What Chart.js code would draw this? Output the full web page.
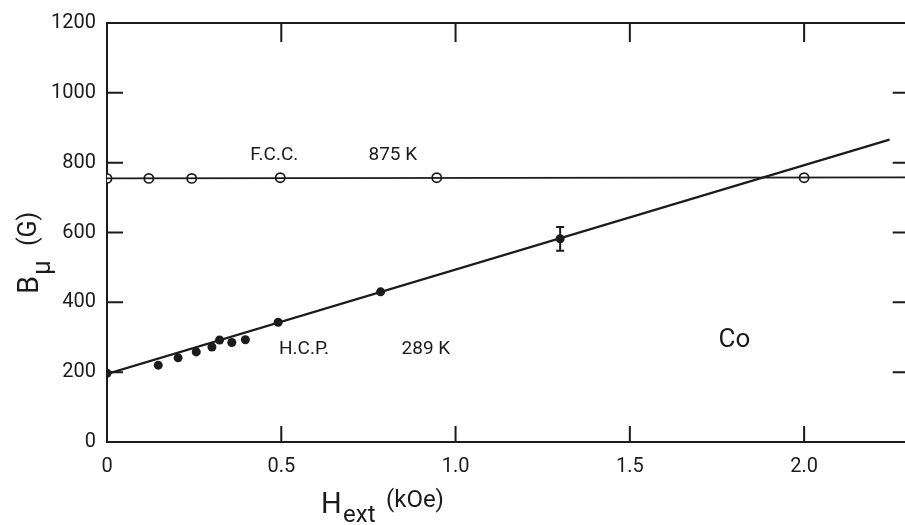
<!DOCTYPE html>
<html>
<head>
<meta charset="utf-8">
<script src="https://cdn.jsdelivr.net/npm/chart.js@4/dist/chart.umd.min.js"></script>
<style>
  html, body { margin: 0; padding: 0; background: #fff; overflow: hidden; }
  #wrap { width: 915px; height: 525px; }
</style>
</head>
<body>
<div id="wrap"><canvas id="c"></canvas></div>
<script>
// F.C.C. 875 K (open circles)
const fccX = [0, 0.12, 0.243, 0.497, 0.946, 2.0];
const fccY = [755, 755, 755, 757, 757, 757];
const fccFitX = [0, 2.3];
const fccFitY = [755, 758];

// H.C.P. 289 K (filled circles)
const hcpX = [0, 0.147, 0.204, 0.256, 0.301, 0.323, 0.358, 0.397, 0.491, 0.785, 1.3];
const hcpY = [197, 220, 241, 258, 272, 292, 285, 293, 343, 430, 582];
const hcpErr = [0, 0, 0, 0, 0, 0, 0, 0, 0, 0, 34];
const hcpFitX = [0, 2.245];
const hcpFitY = [195, 866];

const xTicks = [0, 0.5, 1.0, 1.5, 2.0];
const xTickLabels = ['0', '0.5', '1.0', '1.5', '2.0'];
const yTicks = [0, 200, 400, 600, 800, 1000, 1200];
const yTickLabels = ['0', '200', '400', '600', '800', '1000', '1200'];

const notes = [
    {text: 'F.C.C.', x: 0.48, y: 822},
    {text: '875 K', x: 0.82, y: 822},
    {text: 'H.C.P.', x: 0.565, y: 266},
    {text: '289 K', x: 0.915, y: 266},
    {text: 'Co', x: 1.8, y: 290, big: true}
];

const INK = '#1b1b1b';
const FONT = 'Roboto, "DejaVu Sans", sans-serif';

const pts = (xs, ys) => xs.map((x, i) => ({x: x, y: ys[i]}));

const decorations = {
    id: 'decorations',
    afterDatasetsDraw(chart) {
        const ctx = chart.ctx;
        const xs = chart.scales.x, ys = chart.scales.y;
        const a = chart.chartArea;

        // error bars
        ctx.save();
        ctx.strokeStyle = INK;
        ctx.lineWidth = 2;
        hcpErr.forEach((e, i) => {
            if (!e) return;
            const px = xs.getPixelForValue(hcpX[i]);
            const top = ys.getPixelForValue(hcpY[i] + e);
            const bot = ys.getPixelForValue(hcpY[i] - e);
            ctx.beginPath();
            ctx.moveTo(px, top); ctx.lineTo(px, bot);
            ctx.moveTo(px - 4, top); ctx.lineTo(px + 4, top);
            ctx.moveTo(px - 4, bot); ctx.lineTo(px + 4, bot);
            ctx.stroke();
        });

        // frame top/right and inward ticks
        ctx.lineWidth = 2;
        ctx.beginPath();
        ctx.moveTo(a.left, a.top); ctx.lineTo(a.right, a.top); ctx.lineTo(a.right, a.bottom);
        for (const v of xTicks) {
            if (v === 0) continue;
            const px = xs.getPixelForValue(v);
            ctx.moveTo(px, a.bottom); ctx.lineTo(px, a.bottom - 16);
            ctx.moveTo(px, a.top); ctx.lineTo(px, a.top + 19);
        }
        for (const v of yTicks) {
            if (v === 0 || v === 1200) continue;
            const py = ys.getPixelForValue(v);
            ctx.moveTo(a.left, py); ctx.lineTo(a.left + 16, py);
            ctx.moveTo(a.right, py); ctx.lineTo(a.right - 16, py);
        }
        ctx.stroke();

        // annotations
        ctx.fillStyle = INK;
        ctx.textAlign = 'center';
        ctx.textBaseline = 'middle';
        for (const n of notes) {
            ctx.font = (n.big ? '26px ' : '19px ') + FONT;
            ctx.fillText(n.text, xs.getPixelForValue(n.x), ys.getPixelForValue(n.y));
        }

        // axis titles with subscripts
        ctx.textAlign = 'left';
        ctx.textBaseline = 'alphabetic';
        ctx.font = '29px ' + FONT;
        ctx.fillText('H', 321, 513);
        ctx.font = '24px ' + FONT;
        ctx.fillText('ext', 343, 522);
        ctx.font = '24px ' + FONT;
        ctx.fillText('(kOe)', 386, 507);

        ctx.translate(38, 0);
        ctx.rotate(-Math.PI / 2);
        ctx.font = '29px ' + FONT;
        ctx.fillText('B', -294, 0);
        ctx.font = '26px ' + FONT;
        ctx.fillText('\u03bc', -275, 12);
        ctx.font = '25px ' + FONT;
        ctx.fillText('(G)', -246, -2);
        ctx.restore();
    }
};

new Chart(document.getElementById('c'), {
    type: 'scatter',
    data: {
        datasets: [
            {
                type: 'line',
                data: pts(fccFitX, fccFitY),
                borderColor: INK, borderWidth: 1.6,
                pointRadius: 0, fill: false
            },
            {
                type: 'line',
                data: pts(hcpFitX, hcpFitY),
                borderColor: INK, borderWidth: 2.2,
                pointRadius: 0, fill: false
            },
            {
                data: pts(fccX, fccY),
                pointRadius: 4.6, pointBorderWidth: 1.7,
                pointBackgroundColor: '#fff', pointBorderColor: INK
            },
            {
                data: pts(hcpX, hcpY),
                pointRadius: 4.5, pointBorderWidth: 0,
                pointBackgroundColor: INK, pointBorderColor: INK
            }
        ]
    },
    options: {
        responsive: true,
        maintainAspectRatio: false,
        animation: false,
        layout: {padding: {top: 22, right: 3, left: 0, bottom: 0}},
        plugins: {legend: {display: false}, tooltip: {enabled: false}},
        scales: {
            x: {
                type: 'linear', min: 0, max: 2.3,
                afterBuildTicks: s => { s.ticks = xTicks.map(v => ({value: v})); },
                afterFit: s => { s.height = 83; },
                grid: {display: false, drawTicks: false},
                border: {display: true, color: INK, width: 2},
                ticks: {
                    padding: 13, color: INK, font: {family: FONT, size: 20},
                    maxRotation: 0,
                    callback: (v) => xTickLabels[xTicks.indexOf(v)]
                }
            },
            y: {
                type: 'linear', min: 0, max: 1200,
                afterBuildTicks: s => { s.ticks = yTicks.map(v => ({value: v})); },
                afterFit: s => { s.width = 107; },
                grid: {display: false, drawTicks: false},
                border: {display: true, color: INK, width: 2},
                ticks: {
                    padding: 11, color: INK, font: {family: FONT, size: 20},
                    callback: (v) => yTickLabels[yTicks.indexOf(v)]
                }
            }
        }
    },
    plugins: [decorations]
});
</script>
</body>
</html>
